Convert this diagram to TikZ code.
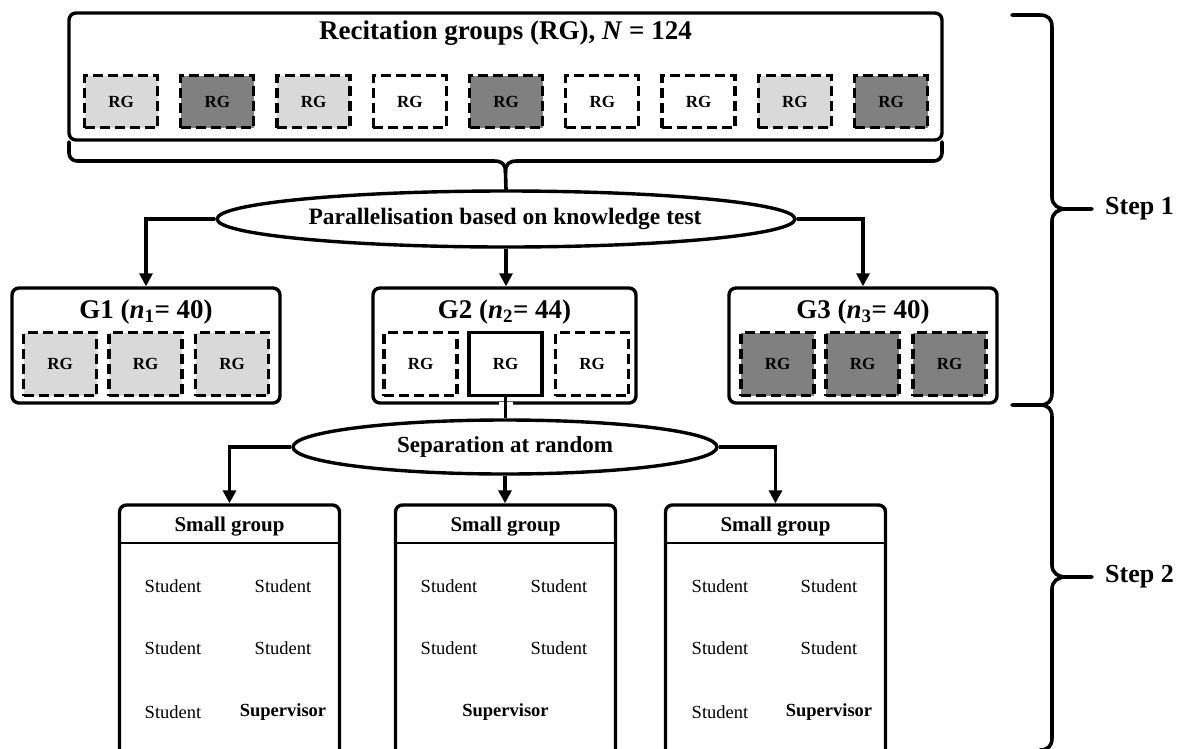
\documentclass[tikz,border=0pt]{standalone}
\usepackage{fontspec}
\setmainfont{Liberation Serif}
\usetikzlibrary{shapes.geometric,arrows.meta}
\definecolor{rglight}{RGB}{217,217,217}
\definecolor{rgdark}{RGB}{128,128,128}
\begin{document}
\begin{tikzpicture}[x=1pt,y=-1pt,
  panel/.style={draw, line width=3.4pt, rounded corners=7pt, inner sep=0pt},
  rgbox/.style={draw, line width=3.4pt, dash pattern=on 10pt off 5pt,
    minimum width=73pt, minimum height=52pt, inner sep=0pt,
    font=\bfseries\fontsize{17}{17}\selectfont},
  grbox/.style={rgbox, minimum height=63pt},
  lt/.style={fill=rglight},
  dk/.style={fill=rgdark},
  solidbox/.style={solid},
  oval/.style={draw, ellipse, line width=3.4pt, inner sep=0pt},
  title/.style={font=\bfseries\fontsize{27}{30}\selectfont, inner sep=0pt},
  gtitle/.style={font=\bfseries\fontsize{27}{30}\selectfont, inner sep=0pt},
  ovaltext/.style={font=\bfseries\fontsize{23.5}{26}\selectfont},
  sghead/.style={font=\bfseries\fontsize{21}{24}\selectfont, inner sep=0pt},
  member/.style={font=\fontsize{18.5}{21}\selectfont, inner sep=0pt},
  lead/.style={font=\bfseries\fontsize{18.5}{21}\selectfont, inner sep=0pt},
  steptext/.style={font=\bfseries\fontsize{26}{30}\selectfont, inner sep=0pt, anchor=west},
  arr/.style={line width=3.4pt, -{Triangle[length=13pt,width=13pt]}},
  link/.style={line width=3.2pt},
  brace/.style={line width=3.6pt, line cap=round, line join=round},
  sep/.style={line width=2.2pt}]

\useasboundingbox (0,0) rectangle (1179,748);
\clip (0,0) rectangle (1179,748);

% ---------- recitation groups ----------
\node[panel, minimum width=873pt, minimum height=127pt] (top) at (505.5,76.5) {};
\node[title] (toptitle) at (505.5,33) {Recitation groups (RG), \textit{N} = 124};
\foreach \i/\sty in {0/lt,1/dk,2/lt,3/,4/dk,5/,6/,7/lt,8/dk}{
  \node[rgbox,\sty] (r\i) at ({121+96.25*\i},101.5) {RG};
}

% brace under the recitation groups
\coordinate (bt) at (505.5,172);
\draw[brace, rounded corners=8pt] (69,142) |- (494,161);
\draw[brace] (494,161) .. controls (502,161) and (505.5,164) .. (bt);
\draw[brace, rounded corners=8pt] (942,142) |- (517,161);
\draw[brace] (517,161) .. controls (509,161) and (505.5,164) .. (bt);

% ---------- parallelisation ----------
\node[oval, minimum width=578pt, minimum height=56pt] (e1) at (506,219) {};
\node[ovaltext] (e1t) at (505,219) {Parallelisation based on knowledge test};
\draw[brace] (bt) -- (e1.north);

% ---------- three groups ----------
\node[panel, minimum width=268pt, minimum height=115pt] (g1) at (146,345.5) {};
\node[panel, minimum width=263pt, minimum height=115pt] (g2) at (504.5,345.5) {};
\node[panel, minimum width=268pt, minimum height=115pt] (g3) at (863,345.5) {};

\node[gtitle] (g1t) at (146,312) {G1 (\textit{n}\textsubscript{1}= 40)};
\node[gtitle] (g2t) at (504.5,312) {G2 (\textit{n}\textsubscript{2}= 44)};
\node[gtitle] (g3t) at (863,312) {G3 (\textit{n}\textsubscript{3}= 40)};

\node[grbox,lt] (g1a) at (60,364) {RG};
\node[grbox,lt] (g1b) at (145.5,364) {RG};
\node[grbox,lt] (g1c) at (232,364) {RG};
\node[grbox] (g2a) at (420.5,364) {RG};
\node[grbox,solidbox] (g2b) at (505.5,364) {RG};
\node[grbox] (g2c) at (592,364) {RG};
\node[grbox,dk] (g3a) at (777.5,364) {RG};
\node[grbox,dk] (g3b) at (862.5,364) {RG};
\node[grbox,dk] (g3c) at (949.5,364) {RG};

\draw[arr] (e1.west) -| (g1.north);
\draw[arr] (e1.south) -- (e1.south |- g2.north);
\draw[arr] (e1.east) -| (g3.north);

% ---------- random separation ----------
\node[oval, minimum width=424pt, minimum height=54pt] (e2) at (505,447) {};
\node[ovaltext, font=\bfseries\fontsize{23}{26}\selectfont] (e2t) at (505,447) {Separation at random};

\coordinate (gap) at (g2b.south |- g2.south);
\fill[white] ([xshift=-7pt,yshift=3pt]gap) rectangle ([xshift=7pt,yshift=-3pt]gap);
\draw[link] (g2b.south) -- (g2b.south |- e2.north);

% ---------- small groups ----------
\foreach \n/\cx in {1/229.5,2/505.5,3/775.5}{
  \node[panel, minimum width=220pt, minimum height=270pt] (sg\n) at (\cx,640) {};
  \node[sghead] (sg\n h) at (\cx,527) {Small group};
  \draw[sep] ([yshift=-40pt]sg\n.north west) -- ([yshift=-40pt]sg\n.north east);
}

\draw[arr] (e2.west) -| (sg1.north);
\draw[arr] (e2.south) -- (e2.south |- sg2.north);
\draw[arr] (e2.east) -| (sg3.north);

\foreach \n/\ca/\cb in {1/173/283,2/449/559,3/720/829}{
  \node[member] (s\n a) at (\ca,586) {Student};
  \node[member] (s\n b) at (\cb,586) {Student};
  \node[member] (s\n c) at (\ca,648) {Student};
  \node[member] (s\n d) at (\cb,648) {Student};
}
\node[member] (s1e) at (173,712) {Student};
\node[lead] (v1) at (283,712) {Supervisor};
\node[lead] (v2) at (505.5,712) {Supervisor};
\node[member] (s3e) at (720,712) {Student};
\node[lead] (v3) at (829,712) {Supervisor};

% ---------- step braces ----------
\coordinate (tip1) at (1092,209);
\coordinate (tip2) at (1092,577);
\draw[brace] (1012,15) -- (1040,15) .. controls (1048,15) and (1052,19) .. (1052,27)
  -- (1052,197) .. controls (1052,205) and (1058,209) .. (1066,209) -- (tip1);
\draw[brace] (1066,209) .. controls (1058,209) and (1052,213) .. (1052,221)
  -- (1052,393) .. controls (1052,401) and (1048,405) .. (1040,405) -- (1012,405);
\draw[brace] (1040,405) .. controls (1048,405) and (1052,409) .. (1052,417)
  -- (1052,565) .. controls (1052,573) and (1058,577) .. (1066,577) -- (tip2);
\draw[brace] (1066,577) .. controls (1058,577) and (1052,581) .. (1052,589)
  -- (1052,738) .. controls (1052,746) and (1048,750) .. (1040,750);
\node[steptext] (step1) at (1105,209) {Step 1};
\node[steptext] (step2) at (1105,577) {Step 2};
\end{tikzpicture}
\end{document}
